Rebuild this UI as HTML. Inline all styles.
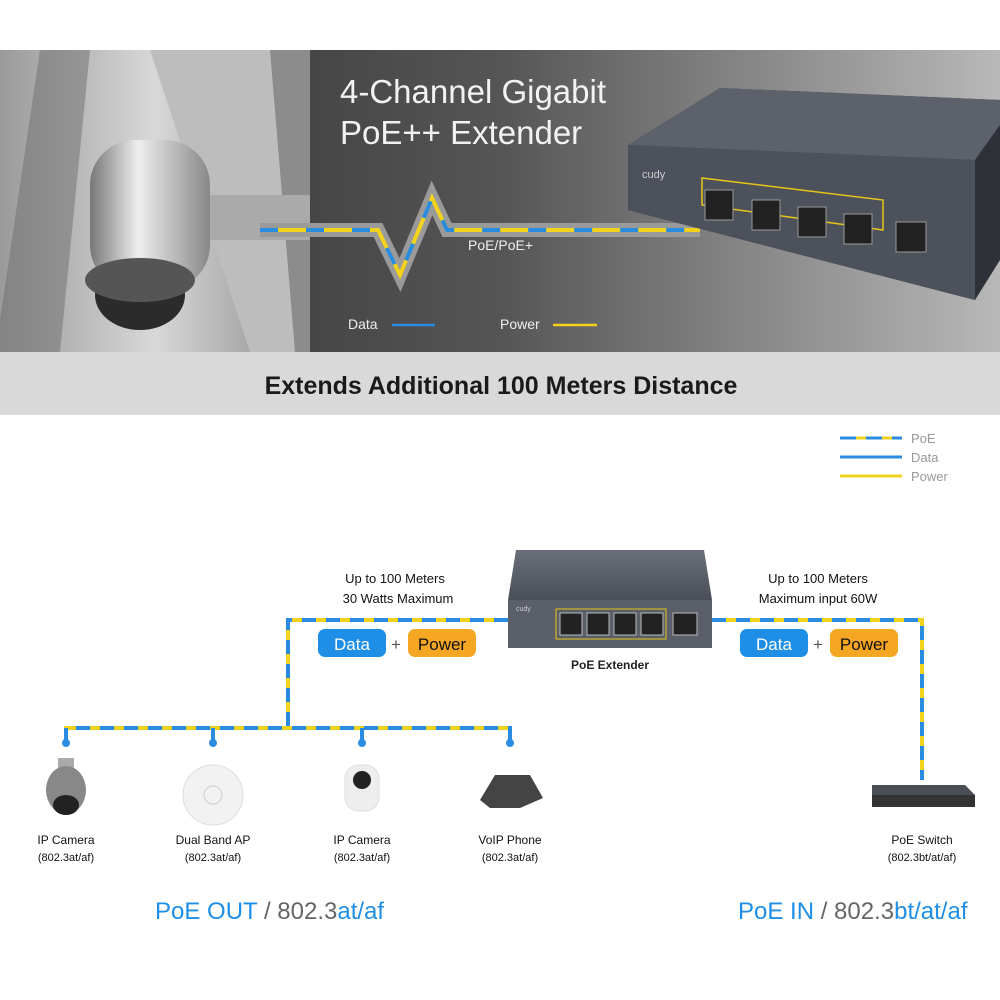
<!DOCTYPE html>
<html><head><meta charset="utf-8"><style>
html,body{margin:0;padding:0;background:#fff;width:1000px;height:1000px;overflow:hidden}
svg{display:block}
text{font-family:"Liberation Sans",sans-serif}
</style></head><body>
<svg width="1000" height="1000" viewBox="0 0 1000 1000" xmlns="http://www.w3.org/2000/svg">
<defs>
<linearGradient id="bg" x1="0" x2="1" y1="0" y2="0">
<stop offset="0" stop-color="#2e2e2e"/><stop offset="0.5" stop-color="#555"/><stop offset="1" stop-color="#b8b8b8"/></linearGradient>
<linearGradient id="lp" x1="0" x2="1" y1="0" y2="0">
<stop offset="0" stop-color="#9a9a9a"/><stop offset="0.5" stop-color="#d8d8d8"/><stop offset="1" stop-color="#8a8a8a"/></linearGradient>
<linearGradient id="cam" x1="0" x2="1"><stop offset="0" stop-color="#777"/><stop offset="0.4" stop-color="#eee"/><stop offset="1" stop-color="#888"/></linearGradient>
<linearGradient id="box" x1="0" x2="0" y1="0" y2="1"><stop offset="0" stop-color="#6a6f7a"/><stop offset="1" stop-color="#4a4e57"/></linearGradient>
</defs>
<rect x="0" y="50" width="1000" height="302" fill="url(#bg)"/>
<rect x="0" y="50" width="310" height="302" fill="url(#lp)"/>
<polygon points="40,50 90,50 60,352 0,352 0,320" fill="#6e6e6e" opacity="0.5"/>
<polygon points="150,50 310,50 310,352 250,352" fill="#bdbdbd"/>
<polygon points="270,50 310,50 310,352 295,352" fill="#8c8c8c"/>
<rect x="180" y="195" width="130" height="45" fill="#aaa"/>
<rect x="90" y="140" width="120" height="150" rx="45" fill="url(#cam)"/>
<ellipse cx="140" cy="295" rx="45" ry="35" fill="#2b2b2b"/>
<ellipse cx="140" cy="280" rx="55" ry="22" fill="#555"/>
<polyline points="260,230 378,230 400,275 432,198 447,230 700,230" fill="none" stroke="#9a9a9a" stroke-width="14"/>
<polyline points="260,230 378,230 400,275 432,198 447,230 700,230" fill="none" stroke="#f2d21c" stroke-width="4"/>
<polyline points="260,230 378,230 400,275 432,198 447,230 700,230" fill="none" stroke="#2a8ce0" stroke-width="4" stroke-dasharray="18,28"/>
<text x="340" y="103" font-size="33" fill="#f2f2f2">4-Channel Gigabit</text>
<text x="340" y="144" font-size="33" fill="#f2f2f2">PoE++ Extender</text>
<text x="468" y="250" font-size="14" fill="#eee">PoE/PoE+</text>
<text x="348" y="329" font-size="14" fill="#eee">Data</text>
<line x1="392" y1="325" x2="435" y2="325" stroke="#2a8ce0" stroke-width="2.5"/>
<text x="500" y="329" font-size="14" fill="#eee">Power</text>
<line x1="553" y1="325" x2="597" y2="325" stroke="#f2d21c" stroke-width="2.5"/>
<polygon points="628,145 720,88 1000,100 1000,200 975,300 628,210" fill="#3f434c"/>
<polygon points="628,145 720,88 1000,100 1000,125 975,160" fill="#5c616c"/>
<polygon points="628,145 975,160 975,300 628,210" fill="#4c515b"/>
<polygon points="975,160 1000,125 1000,260 975,300" fill="#2e3138"/>
<text x="642" y="178" font-size="11" fill="#ccc">cudy</text>
<polygon points="702,178 883,200 883,230 702,205" fill="none" stroke="#e8c51a" stroke-width="1.5"/>
<g fill="#222" stroke="#999" stroke-width="1"><rect x="705" y="190" width="28" height="30"/><rect x="752" y="200" width="28" height="30"/><rect x="798" y="207" width="28" height="30"/><rect x="844" y="214" width="28" height="30"/><rect x="896" y="222" width="30" height="30"/></g>
<rect x="0" y="352" width="1000" height="63" fill="#d9d9d9"/>
<text x="501" y="394" font-size="25" font-weight="bold" fill="#1a1a1a" text-anchor="middle">Extends Additional 100 Meters Distance</text>
<line x1="840" y1="438" x2="902" y2="438" stroke="#f2d21c" stroke-width="3"/>
<line x1="840" y1="438" x2="902" y2="438" stroke="#2a8ce0" stroke-width="3" stroke-dasharray="16,10"/>
<line x1="840" y1="457" x2="902" y2="457" stroke="#2a8ce0" stroke-width="3"/>
<line x1="840" y1="476" x2="902" y2="476" stroke="#f2d21c" stroke-width="3"/>
<g font-size="13" fill="#999"><text x="911" y="443">PoE</text><text x="911" y="462">Data</text><text x="911" y="481">Power</text></g>
<g fill="none" stroke-width="4">
<g stroke="#f2d21c"><polyline points="508,620 288,620 288,728"/><polyline points="66,742 66,728 510,728 510,742"/><polyline points="712,620 922,620 922,780"/></g>
<g stroke="#2a8ce0" stroke-dasharray="14,10"><polyline points="508,620 288,620 288,728"/><polyline points="66,742 66,728 510,728 510,742"/><polyline points="712,620 922,620 922,780"/></g>
<g stroke="#2a8ce0"><line x1="213" y1="728" x2="213" y2="742"/><line x1="362" y1="728" x2="362" y2="742"/></g>
</g>
<g fill="#2a8ce0"><circle cx="66" cy="743" r="4"/><circle cx="213" cy="743" r="4"/><circle cx="362" cy="743" r="4"/><circle cx="510" cy="743" r="4"/></g>
<polygon points="516,550 704,550 712,600 508,600" fill="url(#box)"/>
<rect x="508" y="600" width="204" height="48" fill="#5a5f69"/>
<g fill="#222" stroke="#bbb" stroke-width="1"><rect x="560" y="613" width="22" height="22"/><rect x="587" y="613" width="22" height="22"/><rect x="614" y="613" width="22" height="22"/><rect x="641" y="613" width="22" height="22"/><rect x="673" y="613" width="24" height="22"/></g>
<rect x="556" y="609" width="110" height="30" fill="none" stroke="#e8c51a" stroke-width="1"/>
<text x="516" y="611" font-size="7" fill="#ccc">cudy</text>
<text x="610" y="669" font-size="12" font-weight="bold" fill="#222" text-anchor="middle">PoE Extender</text>
<g font-size="13" fill="#111" text-anchor="middle">
<text x="395" y="583">Up to 100 Meters</text><text x="398" y="603">30 Watts Maximum</text>
<text x="818" y="583">Up to 100 Meters</text><text x="818" y="603">Maximum input 60W</text>
</g>
<g font-size="17" text-anchor="middle">
<rect x="318" y="629" width="68" height="28" rx="7" fill="#1e8ee6"/><text x="352" y="650" fill="#fff">Data</text>
<text x="396" y="650" fill="#555">+</text>
<rect x="408" y="629" width="68" height="28" rx="7" fill="#f5a623"/><text x="442" y="650" fill="#111">Power</text>
<rect x="740" y="629" width="68" height="28" rx="7" fill="#1e8ee6"/><text x="774" y="650" fill="#fff">Data</text>
<text x="818" y="650" fill="#555">+</text>
<rect x="830" y="629" width="68" height="28" rx="7" fill="#f5a623"/><text x="864" y="650" fill="#111">Power</text>
</g>
<rect x="58" y="758" width="16" height="12" fill="#aaa"/>
<ellipse cx="66" cy="790" rx="20" ry="24" fill="#888"/><ellipse cx="66" cy="805" rx="13" ry="10" fill="#222"/>
<circle cx="213" cy="795" r="30" fill="#f2f2f2" stroke="#ddd"/><circle cx="213" cy="795" r="9" fill="none" stroke="#ccc"/>
<rect x="345" y="765" width="34" height="46" rx="14" fill="#eee" stroke="#ddd"/><circle cx="362" cy="780" r="9" fill="#222"/>
<polygon points="480,800 495,775 530,775 543,798 520,808 490,808" fill="#444"/>
<polygon points="872,785 965,785 975,795 872,795" fill="#4a4e57"/><rect x="872" y="795" width="103" height="12" fill="#333"/>
<g font-size="12" fill="#111" text-anchor="middle">
<text x="66" y="844">IP Camera</text><text x="66" y="861" font-size="11">(802.3at/af)</text>
<text x="213" y="844">Dual Band AP</text><text x="213" y="861" font-size="11">(802.3at/af)</text>
<text x="362" y="844">IP Camera</text><text x="362" y="861" font-size="11">(802.3at/af)</text>
<text x="510" y="844">VoIP Phone</text><text x="510" y="861" font-size="11">(802.3at/af)</text>
<text x="922" y="844">PoE Switch</text><text x="922" y="861" font-size="11">(802.3bt/at/af)</text>
</g>
<text x="155" y="919" font-size="24" fill="#1e8ee6">PoE OUT <tspan fill="#666">/ 802.3</tspan><tspan fill="#1e8ee6">at/af</tspan></text>
<text x="738" y="919" font-size="24" fill="#1e8ee6">PoE IN <tspan fill="#666">/ 802.3</tspan><tspan fill="#1e8ee6">bt/at/af</tspan></text>
</svg>
</body></html>
